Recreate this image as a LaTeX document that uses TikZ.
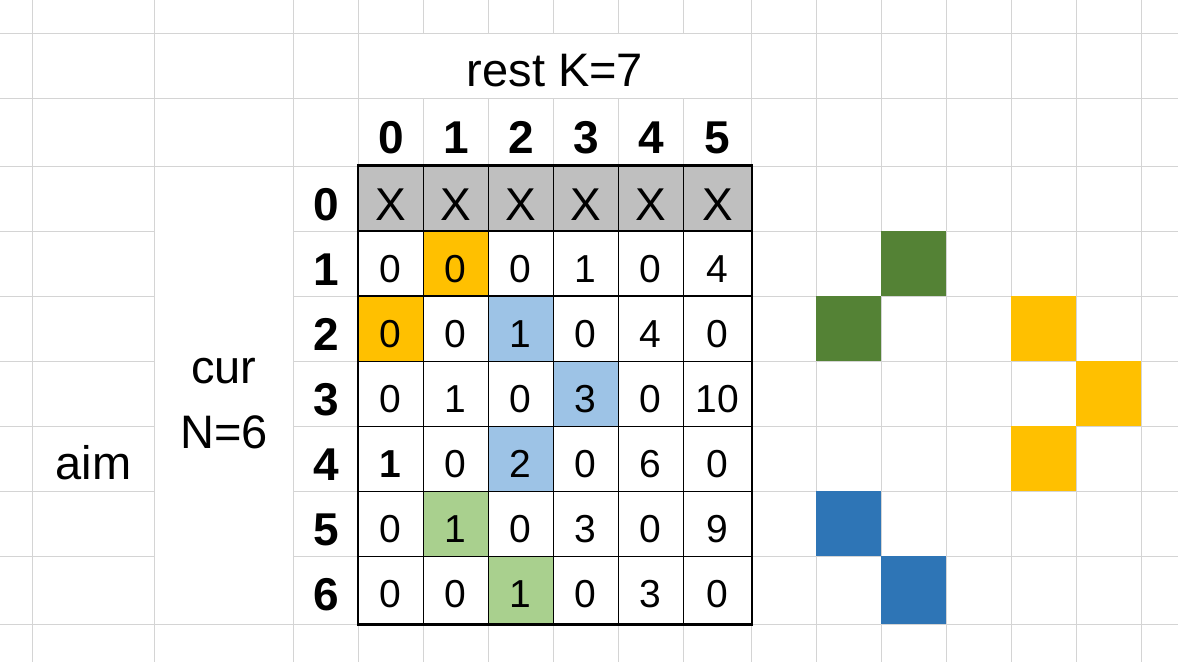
\documentclass[tikz,border=0pt]{standalone}
\usepackage{fontspec}
\setmainfont{Liberation Sans}
\definecolor{GridGray}{HTML}{D4D4D4}
\definecolor{HeadGray}{HTML}{BFBFBF}
\definecolor{Amber}{HTML}{FFC000}
\definecolor{SoftBlue}{HTML}{9DC3E6}
\definecolor{SoftGreen}{HTML}{A9D08E}
\definecolor{DarkGreen}{HTML}{548235}
\definecolor{DeepBlue}{HTML}{2E75B6}

\begin{document}
\begin{tikzpicture}[x=1pt, y=-1pt,
GridLine/.style={GridGray, line width=1pt},
Merged/.style={draw=GridGray, fill=white, line width=1pt, inner sep=0pt},
Cell/.style={draw, line width=1.3pt, inner sep=0pt},
BigText/.style={font=\fontsize{47}{50}\selectfont, anchor=base},
HeadText/.style={font=\bfseries\fontsize{46}{48}\selectfont, anchor=base}]
\useasboundingbox (0,0) rectangle (1178,662);
\fill[white] (0,0) rectangle (1178,662);
% sheet grid
\foreach \x in {32.5,154.5,293.3,358.3,423.3,488.3,553.3,618.3,683.3,751.5,816.3,881.3,946.3,1011.3,1076.3,1141.3}
  \draw[GridLine] (\x,0) -- (\x,662);
\foreach \y in {33.3,98.3,166,231.3,296.3,361.3,426.3,491.3,556.3,624}
  \draw[GridLine] (0,\y) -- (1178,\y);
% merged cells
\node[Merged, minimum width=393.2pt, minimum height=65pt] (restCell) at (554.9,65.8) {};
\node[BigText] (rest) at (554.9,86) {rest K=7};
\node[Merged, minimum width=138.8pt, minimum height=457.7pt] (curCell) at (223.9,395.15) {};
\node[BigText] (cur) at (223.9,383) {cur};
\node[BigText] (curN) at (223.9,448) {N=6};
\node[BigText] (aim) at (93.5,479) {aim};
% headers
\foreach \h [count=\c from 0] in {0,...,5} {
  \pgfmathsetmacro\xc{\c==5 ? 717.4 : 390.8+65*\c}
  \node[HeadText] (colHead\c) at (\xc,153) {\h};
}
\foreach \h [count=\r from 0] in {0,...,6}
  \node[HeadText] (rowHead\r) at (325.8,220+65*\r) {\h};
% dp table
\foreach \r/\vals in {
  0/{X/HeadGray,X/HeadGray,X/HeadGray,X/HeadGray,X/HeadGray,X/HeadGray},
  1/{0/white,0/Amber,0/white,1/white,0/white,4/white},
  2/{0/Amber,0/white,1/SoftBlue,0/white,4/white,0/white},
  3/{0/white,1/white,0/white,3/SoftBlue,0/white,10/white},
  4/{\textbf{1}/white,0/white,2/SoftBlue,0/white,6/white,0/white},
  5/{0/white,1/SoftGreen,0/white,3/white,0/white,9/white},
  6/{0/white,0/white,1/SoftGreen,0/white,3/white,0/white}%
} {
  \pgfmathsetmacro\yt{166+65.05*\r}
  \pgfmathsetmacro\yb{\r==6 ? 624 : \yt+65.05}
  \pgfmathsetmacro\ybase{\r==0 ? 220 : 217+65*\r}
  \pgfmathsetmacro\fs{\r==0 ? 46 : 39}
  \foreach \v/\fc [count=\c from 0] in \vals {
    \pgfmathsetmacro\xl{358.3+65*\c}
    \pgfmathsetmacro\xr{\c==5 ? 751.5 : \xl+65}
    \node[Cell, fill=\fc, minimum width={(\xr-\xl)*1pt}, minimum height={(\yb-\yt)*1pt}] (cell-\r-\c) at ({(\xl+\xr)/2},{(\yt+\yb)/2}) {};
    \node[anchor=base, font=\fontsize{\fs}{\fs}\selectfont] (val-\r-\c) at ({(\xl+\xr)/2},\ybase) {\v};
  }
}
\draw[line width=2.2pt] (cell-0-0.north west) rectangle (cell-6-5.south east);
% coloured blocks on the right
\foreach \xl/\yt/\h/\col in {881.3/231.3/65/DarkGreen, 816.3/296.3/65/DarkGreen, 1011.3/296.3/65/Amber, 1076.3/361.3/65/Amber, 1011.3/426.3/65/Amber, 816.3/491.3/65/DeepBlue, 881.3/556.3/67.7/DeepBlue}
  \fill[\col] (\xl,\yt) rectangle ++(65,\h);
\end{tikzpicture}
\end{document}
